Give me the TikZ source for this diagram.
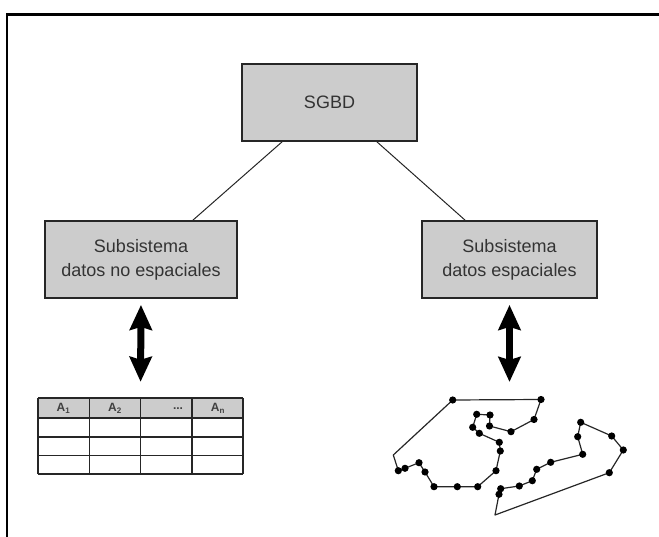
\documentclass[tikz,border=0pt]{standalone}
\usepackage{fontspec}
\setmainfont{Liberation Sans}
\usetikzlibrary{arrows.meta,calc}

\tikzset{
  sysbox/.style={draw=black!85, line width=1.8pt, fill=gray!40,
    minimum height=77pt, inner sep=0pt, align=center,
    text=black!80, font=\fontsize{18}{24}\selectfont},
  link/.style={draw=black!85, line width=1pt},
  bigarrow/.style={line width=7pt, black,
    {Stealth[width=22pt,length=25pt,inset=3pt]}-{Stealth[width=22pt,length=25pt,inset=3pt]}},
  gridline/.style={draw=black!85, line width=1.4pt},
  edge/.style={draw=black!85, line width=1.2pt, line join=round},
  vertex/.style={fill=black},
  frame/.style={draw=black, line width=2.5pt}
}

\begin{document}
\begin{tikzpicture}[x=1pt, y=-1pt]
  \useasboundingbox (0,0) rectangle (659,537);

  % outer frame (top and left sides)
  \draw[frame] (659,14.5) -- (7,14.5) -- (7,537);

  % system boxes
  \node[sysbox, minimum width=175pt] (sgbd) at (329.5,102.5) {SGBD};
  \node[sysbox, minimum width=192pt] (noesp) at (141,259.5)
    {Subsistema\\datos no espaciales};
  \node[sysbox, minimum width=175pt] (esp) at (509.5,259.5)
    {Subsistema\\datos espaciales};

  % tree links
  \draw[link] ($(sgbd.south)+(-47.5,0)$) -- ($(noesp.north)+(52,0)$);
  \draw[link] ($(sgbd.south)+(47.5,0)$) -- ($(esp.north)+(-44.5,0)$);

  % attribute table
  \node[minimum width=205pt, minimum height=76pt, inner sep=0pt] (tabla) at (140.5,436) {};
  \fill[gray!40] (38,398) rectangle (243,418);
  \foreach \y in {398,418,437,455.5,474}
    \draw[gridline] (38,\y) -- (243,\y);
  \foreach \x in {38,89.3,140.6,191.9,243}
    \draw[gridline] (\x,398) -- (\x,474);
  \begin{scope}[every node/.style={font=\fontsize{12}{13}\selectfont\bfseries, text=black!75, inner sep=0pt}]
    \node (a1) at (63.5,408) {A\textsubscript{1}};
    \node (a2) at (115,408) {A\textsubscript{2}};
    \node (adots) at (178,409) {...};
    \node (an) at (218,408) {A\textsubscript{n}};
  \end{scope}

  % spatial data: two polygons
  \coordinate (geom) at (509.5,398);
  \draw[edge] (452.7,400) -- (541,399.5) -- (534,419.5) -- (511,431.7)
    -- (489.5,426) -- (490,415) -- (476.7,414.3) -- (472.7,427.3)
    -- (479.3,433.3) -- (499.3,442.3) -- (500.3,451) -- (496,470.7)
    -- (477.7,486.7) -- (457.3,486.7) -- (434,486.7) -- (425,472)
    -- (419,462.7) -- (405,468.3) -- (398.3,470.7) -- (393.3,455) -- cycle;
  \draw[edge] (495,515) -- (499,494.3) -- (500.7,488.7) -- (519.3,486)
    -- (532.3,480.7) -- (536.7,469.3) -- (550.7,462.3) -- (582.7,454.3)
    -- (577.7,436.7) -- (580.7,422.3) -- (611.7,436) -- (623.3,450)
    -- (609.3,472.7) -- cycle;
  \foreach \p in {(452.7,400),(541,399.5),(534,419.5),(511,431.7),
      (489.5,426),(490,415),(476.7,414.3),(472.7,427.3),(479.3,433.3),
      (499.3,442.3),(500.3,451),(496,470.7),(477.7,486.7),(457.3,486.7),
      (434,486.7),(425,472),(419,462.7),(405,468.3),(398.3,470.7),
      (499,494.3),(500.7,488.7),(519.3,486),(532.3,480.7),(536.7,469.3),
      (550.7,462.3),(582.7,454.3),(577.7,436.7),(580.7,422.3),(611.7,436),
      (623.3,450),(609.3,472.7)}
    \fill[vertex] \p circle (3.6pt);

  % double arrows between subsystems and data
  \draw[bigarrow, shorten <=6pt, shorten >=16pt] (noesp.south) -- (tabla.north);
  \draw[bigarrow, shorten <=6pt, shorten >=16pt] (esp.south) -- (geom);
\end{tikzpicture}
\end{document}
